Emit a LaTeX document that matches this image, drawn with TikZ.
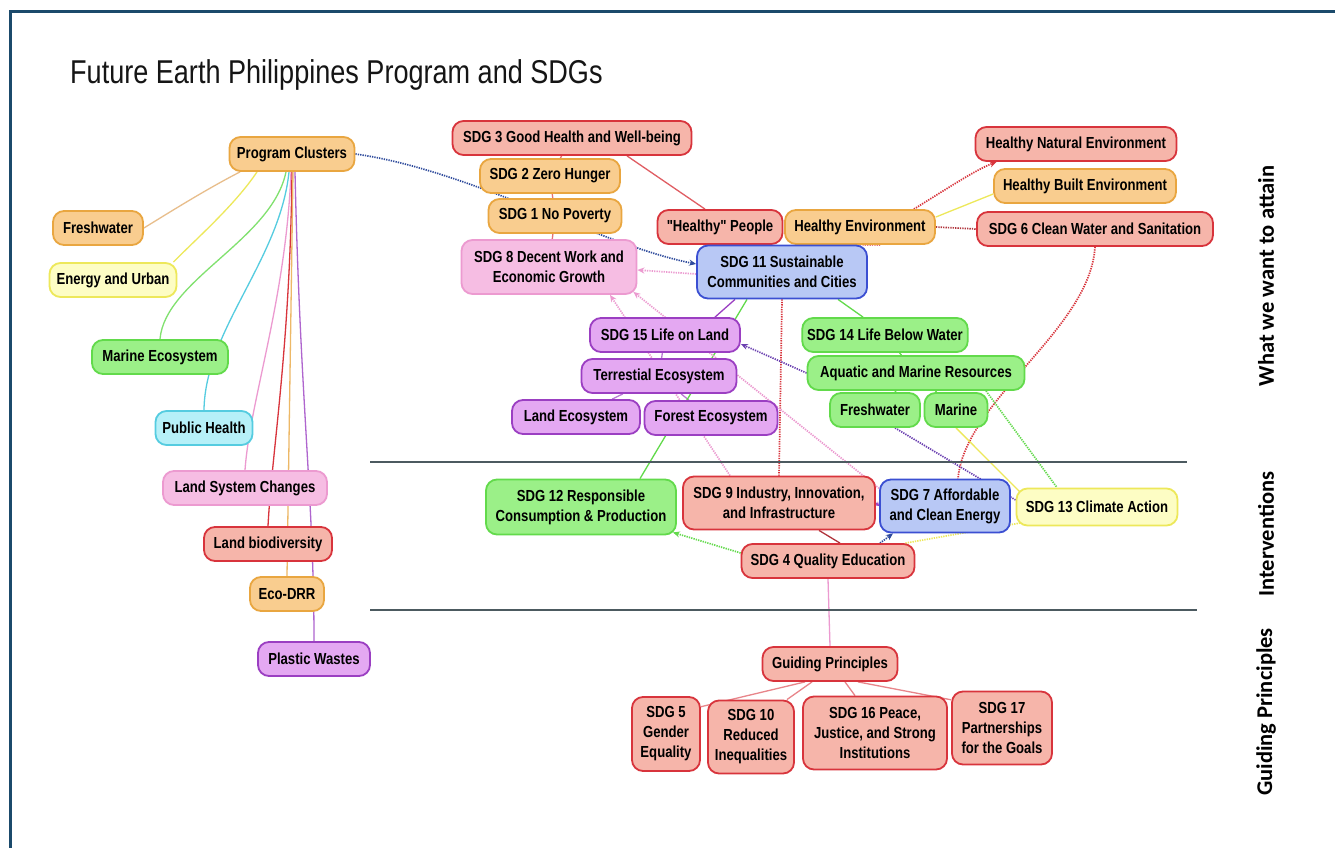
\documentclass[tikz,border=0pt]{standalone}
\usepackage{fontspec}
\newfontfamily\boxfont{Liberation Sans}[FakeStretch=0.82]
\newfontfamily\sidefont{Carlito}
\usetikzlibrary{arrows.meta}
\pgfdeclarelayer{background}
\pgfsetlayers{background,main}
\definecolor{frameblue}{HTML}{1B4A6B}
\definecolor{titleink}{HTML}{151515}
\definecolor{slate}{HTML}{4C5A60}
\definecolor{orgbg}{HTML}{F9CD8F}\definecolor{orgln}{HTML}{E9A640}
\definecolor{rosebg}{HTML}{F6B5AA}\definecolor{roseln}{HTML}{D8343C}
\definecolor{pinkbg}{HTML}{F6BDE3}\definecolor{pinkln}{HTML}{EC9AD0}
\definecolor{bluebg}{HTML}{B8C8F5}\definecolor{blueln}{HTML}{3B4FD2}
\definecolor{grnbg}{HTML}{9BF088}\definecolor{grnln}{HTML}{62DA4B}
\definecolor{ylwbg}{HTML}{FDFDC4}\definecolor{ylwln}{HTML}{EDE85A}
\definecolor{prpbg}{HTML}{E4A8F2}\definecolor{prpln}{HTML}{9B3FC2}
\definecolor{cynbg}{HTML}{B6F0F8}\definecolor{cynln}{HTML}{55CCE0}
\definecolor{navyln}{HTML}{2E4A9C}
\definecolor{indigo}{HTML}{6A3FB0}
\definecolor{wine}{HTML}{B0343C}
\definecolor{tanln}{HTML}{E8BE8C}
\tikzset{card/.style={draw,rounded corners=11pt,line width=1.8pt,align=center,inner xsep=5pt,inner ysep=2pt,minimum height=34pt,font=\boxfont\bfseries\fontsize{16}{20}\selectfont}, orng/.style={card,draw=orgln,fill=orgbg}, rose/.style={card,draw=roseln,fill=rosebg}, pnk/.style={card,draw=pinkln,fill=pinkbg}, blu/.style={card,draw=blueln,fill=bluebg}, grn/.style={card,draw=grnln,fill=grnbg}, ylw/.style={card,draw=ylwln,fill=ylwbg}, prp/.style={card,draw=prpln,fill=prpbg}, cyn/.style={card,draw=cynln,fill=cynbg}, wire/.style={line width=1.3pt}, dots/.style={line width=1.7pt,dash pattern=on 1.3pt off 1.1pt}, tip/.style={-{Stealth[length=7pt,width=6pt]}}, band/.style={draw=slate,line width=1.3pt}, side/.style={rotate=90,font=\sidefont\bfseries\fontsize{22.5}{24}\selectfont}}

\begin{document}
\begin{tikzpicture}[x=1pt,y=-1pt]
\useasboundingbox (0,0) rectangle (1335,848);
\draw[frameblue,line width=3pt] (10,848) -- (10,12) -- (1335,12);
\node[anchor=base west,inner sep=0pt,text=titleink,font=\boxfont\fontsize{33}{36}\selectfont] (title) at (70,84) {Future Earth Philippines Program and SDGs};

% program clusters
\node[orng,minimum width=125] (pc) at (292,154) {Program Clusters};
\node[orng,minimum width=90] (fw) at (98,228) {Freshwater};
\node[ylw,minimum width=127] (eu) at (113,280) {Energy and Urban};
\node[grn,minimum width=136] (me) at (160,357) {Marine Ecosystem};
\node[cyn,minimum width=97] (ph) at (204,428) {Public Health};
\node[pnk,minimum width=164] (lsc) at (245,488) {Land System Changes};
\node[rose,minimum width=128] (lbd) at (268,544) {Land biodiversity};
\node[orng,minimum width=74] (edrr) at (287,594) {Eco-DRR};
\node[prp,minimum width=112] (pw) at (314,659) {Plastic Wastes};

% what we want to attain
\node[rose,minimum width=239] (sdg3) at (572,138) {SDG 3 Good Health and Well-being};
\node[orng,minimum width=140] (sdg2) at (550,176) {SDG 2 Zero Hunger};
\node[orng,minimum width=133] (sdg1) at (555,216) {SDG 1 No Poverty};
\node[pnk,minimum width=175,minimum height=54] (sdg8) at (549,267) {SDG 8 Decent Work and\\Economic Growth};
\node[rose,minimum width=125] (hpe) at (720,227) {"Healthy" People};
\node[orng,minimum width=150] (henv) at (860,227) {Healthy Environment};
\node[blu,minimum width=170,minimum height=53] (sdg11) at (782,272) {SDG 11 Sustainable\\Communities and Cities};
\node[rose,minimum width=201] (hne) at (1076,144) {Healthy Natural Environment};
\node[orng,minimum width=182] (hbe) at (1085,186) {Healthy Built Environment};
\node[rose,minimum width=236] (sdg6) at (1095,229) {SDG 6 Clean Water and Sanitation};
\node[prp,minimum width=150] (sdg15) at (665,335) {SDG 15 Life on Land};
\node[prp,minimum width=155] (tec) at (659,376) {Terrestial Ecosystem};
\node[prp,minimum width=128] (lec) at (576,417) {Land Ecosystem};
\node[prp,minimum width=133] (fec) at (711,418) {Forest Ecosystem};
\node[grn,minimum width=165] (sdg14) at (885,335) {SDG 14 Life Below Water};
\node[grn,minimum width=217] (amr) at (916,373) {Aquatic and Marine Resources};
\node[grn,minimum width=90] (fw2) at (875,410) {Freshwater};
\node[grn,minimum width=63] (mar) at (956,410) {Marine};

% interventions
\node[grn,minimum width=190,minimum height=55] (sdg12) at (581,507) {SDG 12 Responsible\\Consumption \& Production};
\node[rose,minimum width=192,minimum height=53] (sdg9) at (779,503) {SDG 9 Industry, Innovation,\\and Infrastructure};
\node[blu,minimum width=130,minimum height=53] (sdg7) at (945,506) {SDG 7 Affordable\\and Clean Energy};
\node[ylw,minimum width=161,minimum height=37] (sdg13) at (1097,507) {SDG 13 Climate Action};
\node[rose,minimum width=173] (sdg4) at (828,561) {SDG 4 Quality Education};

% guiding principles
\node[rose,minimum width=135] (gp) at (830,664) {Guiding Principles};
\node[rose,minimum width=68,minimum height=74] (sdg5) at (666,734) {SDG 5\\Gender\\Equality};
\node[rose,minimum width=86,minimum height=73] (sdg10) at (751,737) {SDG 10\\Reduced\\Inequalities};
\node[rose,minimum width=144,minimum height=73] (sdg16) at (875,733) {SDG 16 Peace,\\Justice, and Strong\\Institutions};
\node[rose,minimum width=100,minimum height=73] (sdg17) at (1002,728) {SDG 17\\Partnerships\\for the Goals};

\node[side] (attain) at (1266,276) {What we want to attain};
\node[side] (interv) at (1266,534) {Interventions};
\node[side] (guide) at (1266,712) {Guiding Principles};

\begin{pgfonlayer}{background}
\fill[white] (0,0) rectangle (1335,848);
% cluster branches
\draw[wire,draw=tanln] ([xshift=-52]pc.south) .. controls (205,190) and (170,212) .. (fw.east);
\draw[wire,draw=ylwln] ([xshift=-35]pc.south) .. controls (235,205) and (195,240) .. ([xshift=-4]eu.north east);
\draw[wire,draw=grnln!80] ([xshift=-6]pc.south) .. controls (272,240) and (165,280) .. (me.north);
\draw[wire,draw=cynln] ([xshift=-3]pc.south) .. controls (280,260) and (205,330) .. (ph.north);
\draw[wire,draw=pinkln] ([xshift=-1]pc.south) .. controls (286,300) and (250,400) .. (lsc.north);
\draw[wire,draw=roseln] (pc.south) .. controls (290,350) and (272,450) .. (lbd.north);
\draw[wire,draw=orgln!80] ([xshift=1]pc.south) -- (edrr.north);
\draw[wire,draw=prpln!80] ([xshift=3]pc.south) .. controls (300,400) and (314,500) .. (pw.north);
\draw[dots,draw=navyln,tip] (pc.east) .. controls (470,170) and (600,245) .. ([yshift=8]sdg11.west);

% upper block
\draw[wire,draw=roseln!70] (sdg3) -- (sdg2) -- (sdg1) -- (sdg8);
\draw[wire,draw=roseln!80] ([xshift=55]sdg3.south) -- ([xshift=-15]hpe.north);
\draw[dots,draw=pinkln,tip] ([yshift=-2]sdg11.west) -- ([yshift=-3]sdg8.east);
\draw[dots,draw=roseln] ([xshift=-8]sdg11.north east) -- ([xshift=20]henv.south);
\draw[dots,draw=roseln,tip] ([xshift=-22]henv.north east) .. controls (945,190) and (975,170) .. ([xshift=22]hne.south west);
\draw[wire,draw=ylwln] ([yshift=10]henv.east) -- ([yshift=-8]hbe.west);
\draw[dots,draw=wine] (henv.east) -- (sdg6.west);
\draw[dots,draw=roseln] (sdg6.south) .. controls (1090,330) and (965,400) .. ([xshift=13]sdg7.north);

% middle block
\draw[wire,draw=prpln!70] (sdg15) -- (tec) -- (lec);
\draw[wire,draw=prpln!70] (tec) -- (fec);
\draw[wire,draw=grnln] (sdg14) -- (amr) -- (fw2);
\draw[wire,draw=grnln] (amr) -- (mar);
\draw[wire,draw=prpln] ([xshift=-47]sdg11.south) -- ([xshift=50]sdg15.north);
\draw[wire,draw=grnln] ([xshift=-35]sdg11.south) -- ([xshift=59]sdg12.north);
\draw[wire,draw=grnln] ([xshift=56]sdg11.south) -- ([xshift=-22]sdg14.north);
\draw[dots,draw=roseln] (sdg11.south) -- (sdg9.north);
\draw[dots,draw=pinkln,tip] ([xshift=-49]sdg9.north) -- ([xshift=61]sdg8.south);
\draw[dots,draw=pinkln,tip] (sdg7.165) -- ([xshift=-4,yshift=3]sdg8.south east);
\draw[dots,draw=indigo,tip] (amr.west) -- ([yshift=-9]sdg15.east);
\draw[dots,draw=indigo] ([xshift=20]fw2.south) -- ([yshift=7]sdg13.west);
\draw[wire,draw=ylwln] (mar.south) -- ([xshift=4,yshift=-4]sdg13.north west);
\draw[dots,draw=grnln] ([xshift=70]amr.south) -- ([xshift=-40]sdg13.north);

% interventions
\draw[wire,draw=prpln,-{Stealth[length=4pt,width=5pt]}] (sdg9.east) -- (sdg7.west);
\draw[wire,draw=wine] ([xshift=40]sdg9.south) -- ([xshift=12]sdg4.north);
\draw[dots,draw=grnln,tip] ([yshift=8]sdg4.west) -- ([xshift=-4,yshift=3]sdg12.south east);
\draw[dots,draw=navyln,tip] ([xshift=52]sdg4.north) -- ([xshift=-52]sdg7.south);
\draw[dots,draw=ylwln] ([xshift=-10]sdg4.north east) -- ([xshift=8,yshift=4]sdg13.south west);
\draw[wire,draw=pinkln] (sdg4.south) -- (gp.north);

% guiding principles
\draw[wire,draw=roseln!60] ([xshift=-25]gp.south) -- (sdg5.38);
\draw[wire,draw=roseln!60] ([xshift=-18]gp.south) -- ([xshift=-8]sdg10.north east);
\draw[wire,draw=roseln!60] ([xshift=15]gp.south) -- ([xshift=-20]sdg16.north);
\draw[wire,draw=roseln!60] ([xshift=28]gp.south) -- (sdg17.151);
\end{pgfonlayer}

% layer rules
\draw[band] (370,462) -- (1187,462);
\draw[band] (370,610) -- (1197,610);
\end{tikzpicture}
\end{document}
